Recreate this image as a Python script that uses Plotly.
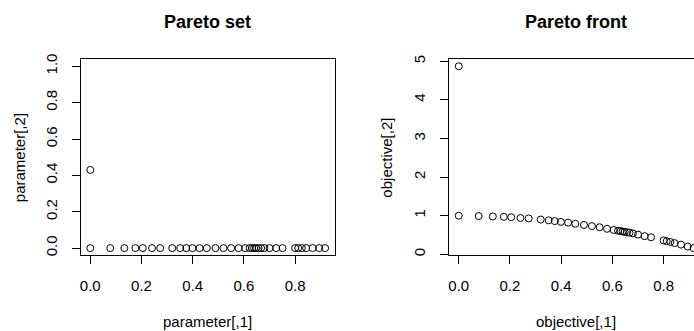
import plotly.graph_objects as go

# Pareto set (decision space)
param1 = [0.0, 0.0, 0.078, 0.133, 0.176, 0.205, 0.241, 0.273, 0.320, 0.351, 0.375, 0.399,
          0.427, 0.455, 0.489, 0.520, 0.550, 0.579, 0.605, 0.622, 0.632, 0.640, 0.648,
          0.657, 0.667, 0.680, 0.700, 0.726, 0.751, 0.800, 0.812, 0.826, 0.843, 0.868,
          0.894, 0.917]
param2 = [0.43] + [0.0] * 35

# Pareto front (objective space)
obj1 = param1
obj2 = [4.87, 1.00, 0.99, 0.98, 0.97, 0.96, 0.94, 0.93, 0.90, 0.88, 0.86, 0.84,
        0.82, 0.79, 0.76, 0.73, 0.70, 0.66, 0.63, 0.61, 0.60, 0.59, 0.58,
        0.57, 0.56, 0.54, 0.51, 0.47, 0.44, 0.36, 0.34, 0.32, 0.29, 0.25,
        0.20, 0.16]

x_ticks = [0.0, 0.2, 0.4, 0.6, 0.8]
y1_ticks = [0.0, 0.2, 0.4, 0.6, 0.8, 1.0]
y2_ticks = [0, 1, 2, 3, 4, 5]

W, H = 694, 331
FONT = "Liberation Sans, Arial, sans-serif"
FS = 15

marker = dict(symbol="circle-open", size=7, color="black", line=dict(width=1, color="black"))

fig = go.Figure()
fig.add_trace(go.Scatter(x=param1, y=param2, mode="markers", marker=marker,
                         xaxis="x", yaxis="y", showlegend=False, cliponaxis=False))
fig.add_trace(go.Scatter(x=obj1, y=obj2, mode="markers", marker=marker,
                         xaxis="x2", yaxis="y2", showlegend=False))

axis_common = dict(showgrid=False, zeroline=False, showline=True, linecolor="black",
                   linewidth=1, ticks="outside", ticklen=8, tickwidth=1, tickcolor="black",
                   tickfont=dict(family=FONT, size=FS, color="black"))

def px_x(p):
    return p / W

def px_y(p):
    return 1 - p / H

box_top, box_bot = 55, 255
L1, R1 = 80, 334
L2 = 449
R2full = L2 + (R1 - L1)
xr = [-0.0367, 0.9537]
xr2_end = xr[0] + (W - L2) / (R2full - L2) * (xr[1] - xr[0])

fig.update_layout(
    width=W, height=H,
    margin=dict(l=0, r=0, t=0, b=0),
    paper_bgcolor="white", plot_bgcolor="white",
    xaxis=dict(domain=[px_x(L1), px_x(R1)], range=xr, tickvals=x_ticks,
               tickformat=".1f", mirror=True, anchor="y", ticklabelstandoff=9, **axis_common),
    yaxis=dict(domain=[px_y(box_bot), px_y(box_top)], range=[-0.04, 1.04],
               tickvals=y1_ticks, tickformat=".1f", tickangle=-90, mirror=True,
               anchor="x", ticklabelstandoff=9, **axis_common),
    xaxis2=dict(domain=[px_x(L2), 1.0], range=[xr[0], xr2_end], tickvals=x_ticks,
                tickformat=".1f", mirror=True, anchor="y2", ticklabelstandoff=9, **axis_common),
    yaxis2=dict(domain=[px_y(box_bot), px_y(box_top)], range=[-0.028, 5.058],
                tickvals=y2_ticks, tickangle=-90, mirror=False, anchor="x2",
                ticklabelstandoff=9, **axis_common),
)

ann = [
    dict(text="<b>Pareto set</b>", x=px_x((L1 + R1) / 2), y=px_y(17), size=18, angle=0),
    dict(text="<b>Pareto front</b>", x=px_x((L2 + R2full) / 2), y=px_y(17), size=18, angle=0),
    dict(text="parameter[,1]", x=px_x((L1 + R1) / 2), y=px_y(322), size=FS, angle=0),
    dict(text="objective[,1]", x=px_x((L2 + R2full) / 2), y=px_y(322), size=FS, angle=0),
    dict(text="parameter[,2]", x=px_x(18), y=px_y(155), size=FS, angle=-90),
    dict(text="objective[,2]", x=px_x(386), y=px_y(155), size=FS, angle=-90),
]
for a in ann:
    fig.add_annotation(text=a["text"], x=a["x"], y=a["y"], xref="paper", yref="paper",
                       xanchor="center", yanchor="middle", showarrow=False, textangle=a["angle"],
                       font=dict(family=FONT, size=a["size"], color="black"))

fig.write_html("out.html", config={"displayModeBar": False},
               post_script="document.body.style.margin='0';document.body.style.overflow='hidden';")
